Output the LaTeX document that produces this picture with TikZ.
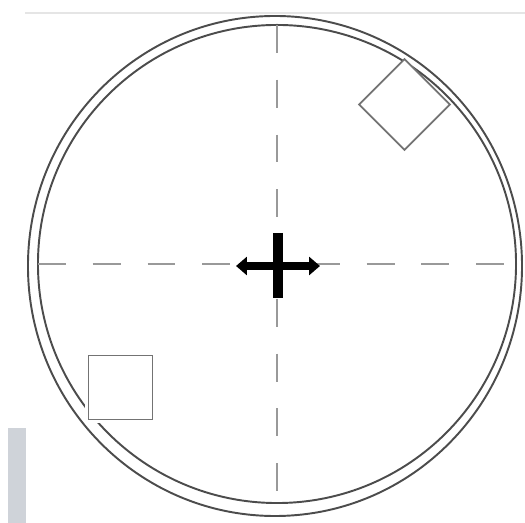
\documentclass[tikz,border=0pt]{standalone}
\usetikzlibrary{arrows.meta,shapes.geometric}
\definecolor{scanbar}{HTML}{CFD3D9}

\begin{document}
\begin{tikzpicture}[
  x=0.02cm, y=-0.02cm,
  ring/.style={draw=black!70, line width=1.1pt, inner sep=0pt, outer sep=0pt},
  axisline/.style={draw=black!40, line width=1.7pt, dash pattern=on 15.87pt off 15.31pt},
  sq/.style={draw=black!55, line width=1pt, fill=white, minimum size=36.5pt,
             inner sep=0pt, outer sep=0pt},
  bar/.style={line width=5.7pt},
  move/.style={{Triangle[width=10.2pt, length=6.2pt]}-{Triangle[width=10.2pt, length=6.2pt]},
               line width=5.1pt}]

\useasboundingbox (0,0) rectangle (525,523);

% ---- scan leftovers ----
\fill[scanbar] (8,428) rectangle (26,523);
\draw[black!10, line width=0.6pt] (25,13) -- (525,13);

% ---- double ring ----
\node[ring, ellipse, minimum width=281.2pt, minimum height=284.6pt] (outer) at (275,266) {};
\node[ring, circle, minimum size=272.1pt] (inner) at (277,264) {};

% ---- dashed axes ----
\draw[axisline] (inner.north) -- (inner.south);
\draw[axisline] (inner.west) -- (inner.east);

% ---- squares ----
\node[sq, rotate=45] (sqA) at (404.5,104.5) {};
\node[sq, preaction={draw=white, line width=3.5pt}] (sqB) at (120.5,387.5) {};

% ---- centre cross ----
\coordinate (barT) at (278,233);
\coordinate (barB) at (278,298);
\coordinate (moveL) at (236,266);
\coordinate (moveR) at (320,266);
\draw[bar] (barT) -- (barB);
\draw[move] (moveL) -- (moveR);
\end{tikzpicture}
\end{document}
